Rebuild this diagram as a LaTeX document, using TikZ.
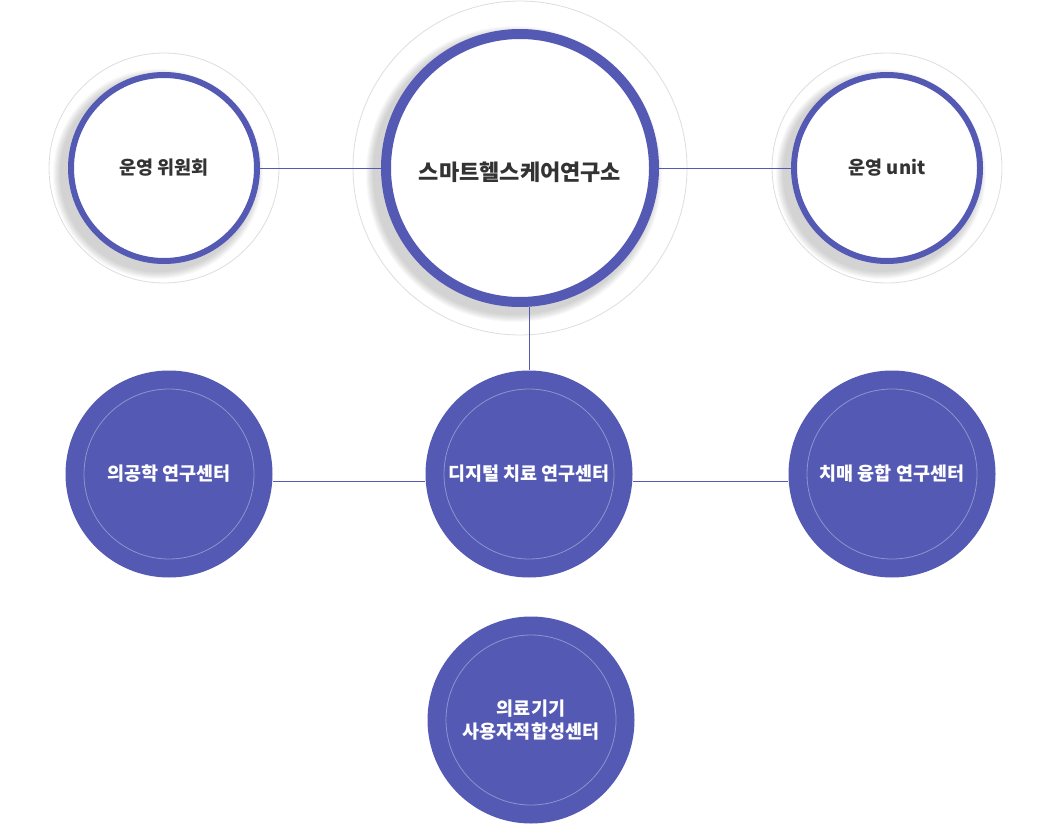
\documentclass[tikz,border=0pt]{standalone}
\usepackage{fontspec}
\newfontfamily\kor{Noto Sans CJK KR}
\usetikzlibrary{calc}
\definecolor{mainblue}{HTML}{5459B4}
\definecolor{haloGray}{HTML}{DDDDDD}
\definecolor{textGray}{HTML}{333333}
\tikzset{
  halo/.style={draw=haloGray,line width=0.8pt},
  ringnode/.style={circle,draw=mainblue,fill=white,inner sep=0pt,text=textGray,
    font=\kor\bfseries\fontsize{18.5}{22}\selectfont},
  centernode/.style={circle,fill=mainblue,inner sep=0pt,minimum size=207pt,text=white,
    align=center,font=\kor\bfseries\fontsize{18.5}{23.5}\selectfont},
  innerring/.style={draw=white,opacity=0.35,line width=0.8pt},
  link/.style={draw=mainblue,line width=0.8pt}
}
\begin{document}
\begin{tikzpicture}[x=1pt,y=-1pt]
\useasboundingbox (0,0) rectangle (1062,837);
% faint outer rings
\draw[halo] (164,168) circle (115);
\draw[halo] (520,168) circle (167);
\draw[halo] (887,168) circle (115);
% soft shadows
\foreach \cx/\r in {164/96,520/139,887/96}
  \foreach \k in {0,...,7}
    \fill[black,opacity=0.022] (\cx-6,174) circle (\r+9-\k);
% top row
\node[ringnode,line width=6pt,minimum size=186pt] (wiwon) at (164,168) {운영 위원회};
\node[ringnode,line width=10pt,minimum size=268pt,font=\kor\bfseries\fontsize{22}{26}\selectfont] (ctr) at (520,168) {\raisebox{-4pt}[\height][\depth]{스마트헬스케어연구소}};
\node[ringnode,line width=6pt,minimum size=186pt] (unit) at (887,168) {운영 unit};
\draw[link] (wiwon.east) -- (ctr.west);
\draw[link] (ctr.east) -- (unit.west);
% research centres
\node[centernode] (eng) at (169,474) {의공학 연구센터};
\node[centernode] (dtx) at (529,474) {디지털 치료 연구센터};
\node[centernode] (dem) at (892,474) {치매 융합 연구센터};
\node[centernode] (dev) at (531,720) {의료기기\\사용자적합성센터};
\foreach \n in {eng,dtx,dem,dev}
  \draw[innerring] (\n.center) circle (85);
\draw[link] (dtx.north |- ctr.south) -- (dtx.north);
\draw[link] ([yshift=-7pt]eng.east) -- ([yshift=-7pt]dtx.west);
\draw[link] ([yshift=-7pt]dtx.east) -- ([yshift=-7pt]dem.west);
\end{tikzpicture}
\end{document}
